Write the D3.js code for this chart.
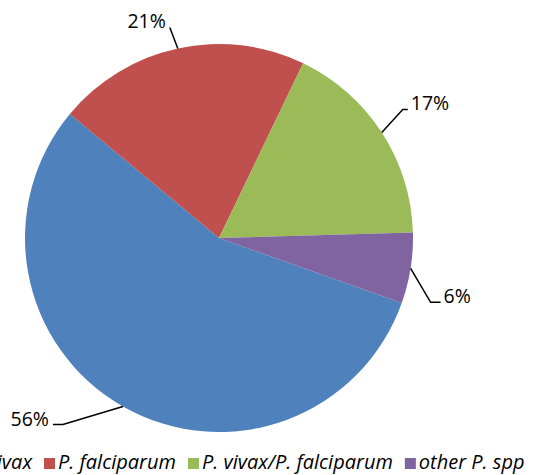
<!DOCTYPE html>
<html>
<head>
<meta charset="utf-8">
<script src="https://cdn.jsdelivr.net/npm/d3@7"></script>
<style>
body { margin: 0; background: #fff; }
svg { display: block; font-family: "Open Sans", "Liberation Sans", sans-serif; }
</style>
</head>
<body>
<div id="main"></div>
<script>
var categories = ["P. vivax", "P. falciparum", "P. vivax/P. falciparum", "other P. spp"];
var shares = [55.6, 21.1, 17.4, 5.9];
var colors = ["#4F81BD", "#C0504D", "#9BBB59", "#8064A2"];

var w = 551;
var h = 475;
var cx = 219, cy = 238, r = 194;
// leader elbow offset from the arc edge, and horizontal tail length
var leaders = [[-60, 18, -10], [-8, -21, 0], [21, -23, 5], [20, 34, 10]];

var svg = d3.select("#main").append("svg").
attr("width", w).
attr("height", h);

var start = 109.6 * Math.PI / 180;
var pie = d3.pie().sort(null).
startAngle(start).
endAngle(start + 2 * Math.PI).
value(function (d) {return d;});
var arcs = pie(shares);

var arc = d3.arc().innerRadius(0).outerRadius(r);

var g = svg.append("g").attr("transform", "translate(" + cx + "," + cy + ")");

g.selectAll("path").
data(arcs).
enter().
append("path").
attr("d", arc).
attr("fill", function (d, i) {return colors[i];});

// labels with leader lines
var lab = g.selectAll("g.lab").
data(arcs).
enter().
append("g").
attr("class", "lab");

function edge(d) {
  var a = (d.startAngle + d.endAngle) / 2;
  return [r * Math.sin(a), -r * Math.cos(a)];
}

lab.append("polyline").
attr("fill", "none").
attr("stroke", "#000").
attr("stroke-width", 1.5).
attr("points", function (d, i) {
  var p = edge(d), o = leaders[i];
  var e = [p[0] + o[0], p[1] + o[1]];
  return [p, e, [e[0] + o[2], e[1]]].map(function (q) {return q.join(",");}).join(" ");
});

lab.append("text").
attr("x", function (d, i) {
  var p = edge(d), o = leaders[i];
  var right = o[0] > 0;
  return p[0] + o[0] + o[2] + (right ? 3 : -4);
}).
attr("y", function (d, i) {return edge(d)[1] + leaders[i][1] + 1;}).
attr("text-anchor", function (d, i) {return leaders[i][0] > 0 ? "start" : "end";}).
style("font-size", "19.5px").
attr("fill", "#000").
text(function (d) {return Math.round(d.data) + "%";});

// legend along the bottom (overflows the frame like the original)
var legend = svg.append("g").attr("transform", "translate(0,469)");
var items = legend.selectAll("g").
data(categories).
enter().
append("g");

items.append("rect").
attr("width", 11).
attr("height", 11).
attr("y", -11).
attr("fill", function (d, i) {return colors[i];});

items.append("text").
attr("x", 14).
attr("y", 0).
style("font-size", "20px").
style("font-style", "italic").
attr("fill", "#000").
text(function (d) {return d;});

var widths = [];
items.each(function () {widths.push(this.querySelector("text").getComputedTextLength() + 14);});
var xs = [], x = 0;
widths.forEach(function (wd) {xs.push(x);x += wd + 12;});
var shift = 44 - xs[1];
items.attr("transform", function (d, i) {return "translate(" + (xs[i] + shift) + ",0)";});
</script>
</body>
</html>
